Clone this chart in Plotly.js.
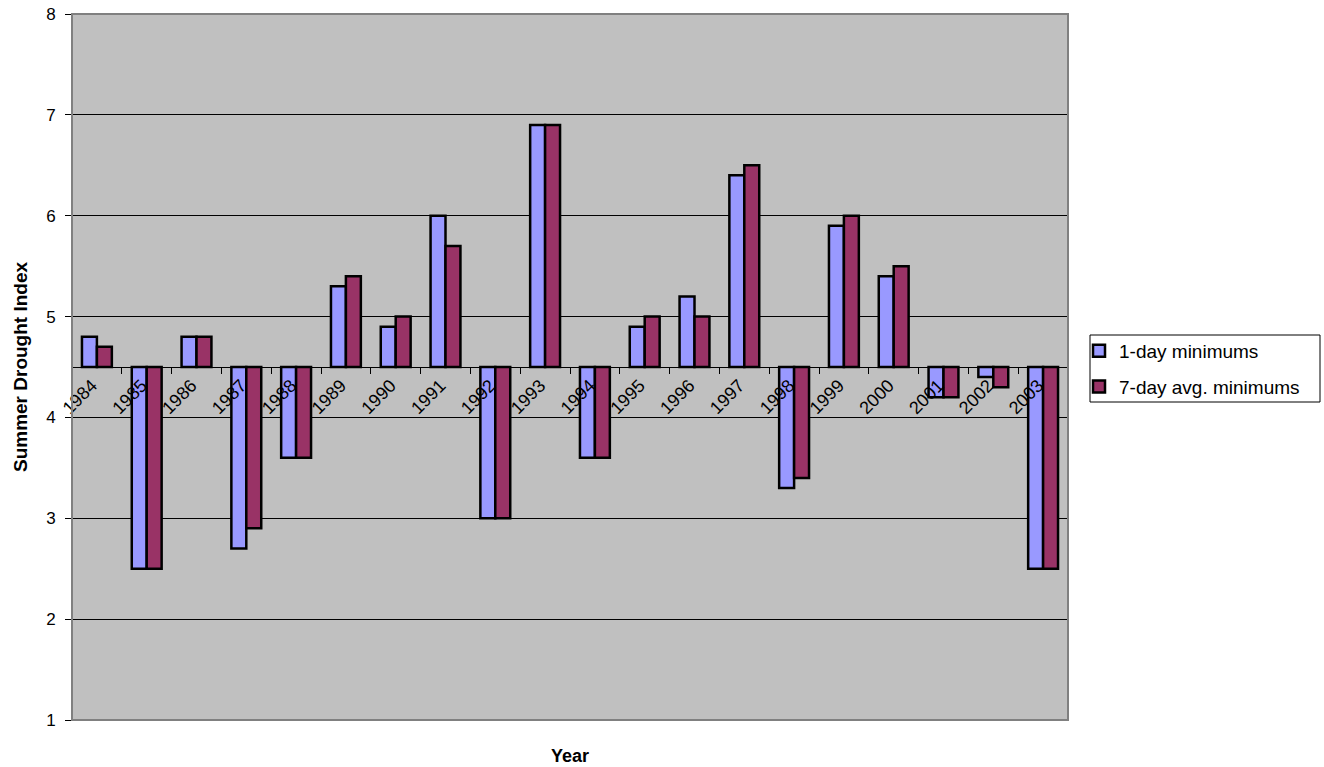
<!DOCTYPE html>
<html>
<head>
<meta charset="utf-8">
<script src="https://cdn.plot.ly/plotly-3.0.1.min.js"></script>
<style>html,body{margin:0;padding:0;background:#fff;}#chart{width:1324px;height:767px;}</style>
</head>
<body>
<div id="chart"></div>
<script>
const years = ["1984","1985","1986","1987","1988","1989","1990","1991","1992","1993","1994","1995","1996","1997","1998","1999","2000","2001","2002","2003"];
const oneDayMin = [4.8,2.5,4.8,2.7,3.6,5.3,4.9,6.0,3.0,6.9,3.6,4.9,5.2,6.4,3.3,5.9,5.4,4.2,4.4,2.5];
const sevenDayAvgMin = [4.7,2.5,4.8,2.9,3.6,5.4,5.0,5.7,3.0,6.9,3.6,5.0,5.0,6.5,3.4,6.0,5.5,4.2,4.3,2.5];
const baseline = 4.5;
const seriesNames = ["1-day minimums","7-day avg. minimums"];

const font = "Liberation Sans, Arial, sans-serif";
function trace(name, vals, color, grp){
  return {
    type:'bar', name:name, x:years, legendgroup:grp,
    y: vals.map(v => v - baseline),
    base: vals.map(() => baseline),
    marker:{color:color, line:{color:'#000', width:2.5}},
    hoverinfo:'x+text', text: vals.map(String), textposition:'none'
  };
}
const data = [
  trace(seriesNames[0], oneDayMin, '#9999FF', 'a'),
  trace(seriesNames[1], sevenDayAvgMin, '#993366', 'b')
];
const L = 72, R = 1068, T = 14, B = 720;
const px = x => (x - L) / (R - L);
const py = y => (B - y) / (B - T);
const layout = {
  width:1324, height:767,
  margin:{l:L, r:1324-R, t:T, b:767-B},
  paper_bgcolor:'#fff', plot_bgcolor:'#C0C0C0',
  font:{family:font, size:16, color:'#000'},
  barmode:'group', bargap:0.4, bargroupgap:0,
  showlegend:true,
  legend:{x:px(1079), y:py(332), xanchor:'left', yanchor:'top', bgcolor:'rgba(0,0,0,0)', borderwidth:0,
          font:{family:font, size:19}, traceorder:'grouped', tracegroupgap:8, itemwidth:30},
  xaxis:{type:'category', anchor:'free', position:0.5, showline:true, linecolor:'#000', linewidth:1,
         ticks:'outside', tickson:'boundaries', ticklen:6, tickcolor:'#000', tickangle:-45,
         ticklabelshift:-5,
         showgrid:false, zeroline:false, tickfont:{family:font, size:18}},
  yaxis:{range:[1,8], dtick:1, ticks:'outside', ticklen:6, tickcolor:'#000', showline:false,
         showgrid:true, gridcolor:'#000', gridwidth:1, zeroline:false, tickfont:{family:font, size:17},
         ticklabelstandoff:6,
         title:{text:'<b>Summer Drought Index</b>', font:{family:font, size:19}, standoff:13}},
  shapes:[
    {type:'rect', xref:'paper', yref:'paper', x0:0, x1:1, y0:0, y1:1, line:{color:'#808080', width:2}, layer:'above'},
    {type:'rect', xref:'paper', yref:'paper', x0:px(1090), x1:px(1320), y0:py(402), y1:py(335), line:{color:'#000', width:1}, fillcolor:'rgba(0,0,0,0)'}
  ],
  annotations:[{xref:'paper', yref:'paper', x:0.5, y:0, yshift:-36, showarrow:false, text:'<b>Year</b>',
                font:{family:font, size:18}, yanchor:'middle'}]
};
Plotly.newPlot('chart', data, layout, {displayModeBar:false, staticPlot:true});
</script>
</body>
</html>
